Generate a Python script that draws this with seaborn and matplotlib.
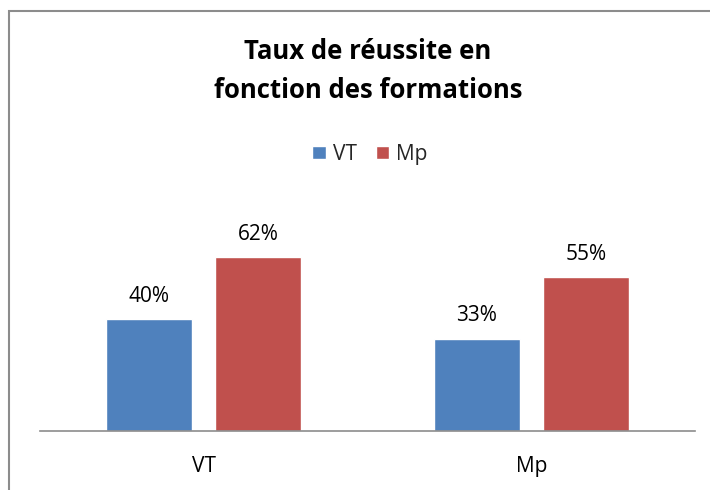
import matplotlib
matplotlib.use("Agg")
import matplotlib.pyplot as plt
import seaborn as sns
import pandas as pd
from matplotlib.patches import Rectangle, Patch

categories = ["VT", "Mp"]
series_names = ["VT", "Mp"]
vt_values = [0.40, 0.33]
mp_values = [0.62, 0.55]
labels_vt = ["40%", "33%"]
labels_mp = ["62%", "55%"]
title = "Taux de réussite en\nfonction des formations"
colors = ["#4F81BD", "#C0504D"]

rows = []
for i, c in enumerate(categories):
    rows.append({"cat": c, "serie": series_names[0], "val": vt_values[i], "lab": labels_vt[i]})
    rows.append({"cat": c, "serie": series_names[1], "val": mp_values[i], "lab": labels_mp[i]})
df = pd.DataFrame(rows)

sns.set_theme(style="white")
plt.rcParams['font.family'] = ['Open Sans', 'DejaVu Sans']

fig = plt.figure(figsize=(7.1, 4.9), dpi=100)
ax = fig.add_axes([40/710, 59/490, 655/710, 196/490])

sns.barplot(data=df, x="cat", y="val", hue="serie", hue_order=series_names,
            order=categories, palette=colors, width=0.666, gap=0.21,
            saturation=1, ax=ax, legend=False)

ax.set_ylim(0, 0.7)
ax.set_xlim(-0.5, 1.5)
for s in ["top", "right", "left"]:
    ax.spines[s].set_visible(False)
ax.spines["bottom"].set_color("#8c8c8c")
ax.spines["bottom"].set_linewidth(1.2)
ax.set_yticks([])
ax.set_xlabel("")
ax.set_ylabel("")
ax.tick_params(axis="x", length=0, pad=18, labelsize=15, colors="black")

for cont, labs in zip(ax.containers, [labels_vt, labels_mp]):
    ax.bar_label(cont, labels=labs, padding=9, fontsize=15, color="black")

fig.text(0.518, 0.855, title, ha="center", va="center", fontsize=18.5,
         fontweight="bold", linespacing=1.6, color="black")

handles = [Patch(facecolor=colors[0]), Patch(facecolor=colors[1])]
fig.legend(handles, series_names, loc="center", bbox_to_anchor=(0.521, 0.685),
           ncol=2, frameon=False, fontsize=15, handlelength=0.65, handleheight=0.65,
           handletextpad=0.35, columnspacing=0.9)

fig.patches.append(Rectangle((9/710, -0.1), 1.1, (490-11)/490 + 0.1,
                             transform=fig.transFigure, fill=False,
                             edgecolor="#8c8c8c", linewidth=1.5))

fig.savefig("out.png", dpi=100)
